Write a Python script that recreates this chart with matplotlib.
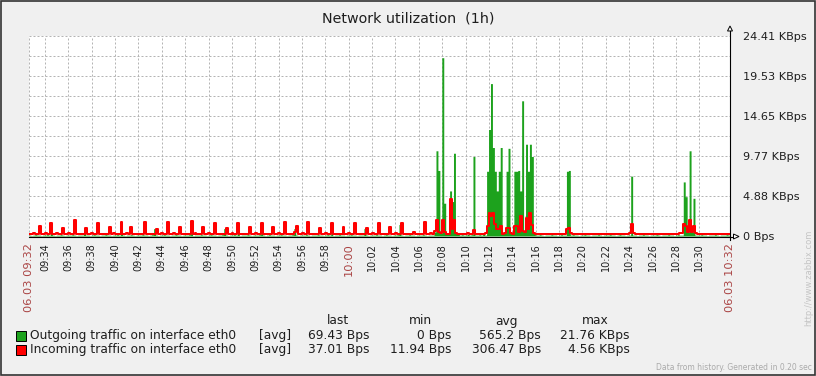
import matplotlib
matplotlib.use("Agg")
import matplotlib.pyplot as plt
import numpy as np
from matplotlib.patches import Rectangle, Polygon
from matplotlib.lines import Line2D
from matplotlib.transforms import Affine2D

W, H = 816, 376

# samples every 10 s from 06.03 09:32:38, values in KBps
start_min = 32 + 38 / 60  # minutes after 09:00
step_min = 10 / 60

outgoing = [
    0.1, 0.05, 0.1, 0.15, 0.1, 0.1, 0.05, 0.1, 0.1, 0.15, 0.1, 1.55, 0.1, 0.05, 0.1, 0.1, 0.15, 0.1, 0.05, 0.1, 0.1, 0.1, 0.15, 0.1, 0.05, 0.1, 0.1, 0.1, 0.7, 0.1,
    0.1, 0.05, 0.1, 0.15, 0.1, 0.1, 0.05, 0.1, 0.1, 0.15, 0.1, 0.1, 0.05, 0.1, 0.1, 0.15, 0.1, 1.6, 0.1, 0.05, 0.1, 0.1, 0.15, 0.1, 0.05, 0.1, 0.1, 0.1, 0.15, 0.1,
    0.1, 0.05, 0.1, 0.15, 0.9, 0.1, 0.05, 0.1, 0.1, 0.15, 0.1, 0.1, 0.05, 0.1, 0.1, 0.15, 0.1, 0.1, 0.05, 0.1, 0.1, 0.1, 0.15, 1.6, 0.05, 0.1, 0.1, 0.1, 0.15, 0.1,
    0.1, 0.05, 0.1, 0.15, 0.1, 0.1, 0.05, 0.1, 0.1, 0.15, 0.9, 0.1, 0.05, 0.1, 0.1, 0.15, 0.1, 1.55, 0.05, 0.1, 0.1, 0.1, 0.15, 0.1, 0.05, 0.1, 0.1, 0.1, 0.15, 1.55,
    0.1, 0.05, 0.1, 0.15, 0.1, 0.1, 0.05, 0.1, 0.1, 0.15, 0.1, 0.1, 0.05, 0.1, 0.1, 0.15, 0.9, 0.1, 0.05, 0.1, 0.1, 0.1, 0.15, 0.1, 0.05, 0.1, 0.1, 0.1, 0.15, 0.1,
    0.1, 0.05, 0.1, 0.15, 0.1, 1.55, 0.05, 0.1, 0.1, 0.15, 0.1, 0.1, 0.05, 0.1, 0.1, 0.15, 0.1, 0.1, 0.05, 0.1, 0.1, 0.1, 0.9, 0.1, 0.05, 0.1, 0.1, 0.1, 0.15, 0.1,
    0.1, 0.05, 0.1, 0.15, 0.1, 0.1, 0.05, 0.1, 0.1, 0.15, 1.4, 0.1, 0.05, 0.1, 0.1, 0.15, 0.1, 0.1, 0.05, 0.1, 0.1, 0.1, 0.15, 0.1, 0.05, 0.1, 0.1, 0.1, 0.5, 10.4,
    8.0, 0.3, 21.76, 4.0, 0.3, 0.2, 5.5, 4.2, 10.1, 0.3, 0.2, 0.1, 0.15, 0.1, 0.1, 0.2, 0.1, 0.15, 9.7, 0.1, 0.1, 0.15, 0.1, 0.2, 0.1, 7.9, 13.0, 18.6, 10.8, 7.9,
    5.5, 7.9, 10.8, 0.3, 0.4, 7.9, 10.7, 0.3, 0.4, 7.9, 7.9, 8.0, 5.5, 16.5, 0.5, 11.2, 7.9, 11.2, 9.7, 0.3, 0.1, 0.1, 0.15, 0.1, 0.05, 0.1, 0.1, 0.1, 0.15, 0.1,
    0.1, 0.05, 0.1, 0.15, 0.1, 0.1, 7.9, 8.0, 0.1, 0.15, 0.1, 0.1, 0.05, 0.1, 0.1, 0.15, 0.1, 0.1, 0.05, 0.1, 0.1, 0.1, 0.15, 0.1, 0.05, 0.1, 0.1, 0.1, 0.15, 0.1,
    0.1, 0.05, 0.1, 0.15, 0.1, 0.1, 0.05, 0.1, 0.1, 7.3, 0.1, 0.1, 0.05, 0.1, 0.1, 0.15, 0.1, 0.1, 0.05, 0.1, 0.1, 0.1, 0.15, 0.1, 0.05, 0.1, 0.1, 0.1, 0.15, 0.1,
    0.1, 0.05, 0.1, 0.15, 0.1, 0.1, 6.6, 4.8, 0.5, 10.4, 0.5, 4.6, 0.1, 0.1, 0.1, 0.15, 0.1, 0.1, 0.05, 0.1, 0.1, 0.1, 0.15, 0.1, 0.05, 0.1, 0.1, 0.1, 0.15, 0.1,
    0.1,
]

incoming = [
    0.3, 0.25, 0.35, 0.2, 0.25, 1.2, 0.25, 0.2, 0.4, 0.25, 0.2, 1.55, 0.25, 0.2, 0.35, 0.25, 0.2, 1.0, 0.25, 0.2, 0.4, 0.25, 0.2, 1.95, 0.25, 0.2, 0.3, 0.25, 0.2, 1.0,
    0.25, 0.2, 0.35, 0.25, 0.2, 1.55, 0.25, 0.2, 0.3, 0.25, 0.2, 1.1, 0.25, 0.4, 0.2, 0.25, 0.2, 1.7, 0.25, 0.2, 0.35, 0.25, 1.1, 0.25, 0.2, 0.3, 0.25, 0.2, 0.25, 1.7,
    0.25, 0.2, 0.3, 0.25, 0.2, 0.9, 0.25, 0.2, 0.35, 0.25, 0.2, 1.7, 0.25, 0.2, 0.4, 0.25, 0.2, 1.1, 0.25, 0.2, 0.3, 0.25, 0.2, 1.8, 0.25, 0.35, 0.2, 0.25, 0.2, 1.1,
    0.25, 0.2, 0.35, 0.25, 0.2, 1.55, 0.25, 0.2, 0.3, 0.25, 0.2, 1.0, 0.25, 0.2, 0.4, 0.25, 0.2, 1.55, 0.25, 0.2, 0.3, 0.25, 0.2, 1.1, 0.25, 0.2, 0.35, 0.25, 0.2, 1.55,
    0.25, 0.2, 0.3, 0.25, 0.2, 1.1, 0.25, 0.2, 0.35, 0.25, 0.2, 1.7, 0.25, 0.2, 0.3, 0.25, 0.45, 1.2, 0.25, 0.2, 0.35, 0.25, 0.2, 1.7, 0.25, 0.2, 0.3, 0.25, 0.2, 1.0,
    0.25, 0.2, 0.35, 0.25, 0.2, 1.55, 0.25, 0.2, 0.3, 0.25, 0.2, 1.1, 0.25, 0.2, 0.4, 0.25, 0.2, 1.55, 0.25, 0.2, 0.3, 0.25, 0.2, 1.0, 0.25, 0.2, 0.35, 0.25, 0.2, 1.55,
    0.25, 0.2, 0.3, 0.25, 0.2, 1.1, 0.25, 0.2, 0.35, 0.25, 0.2, 1.55, 0.25, 0.2, 0.3, 0.25, 0.2, 0.5, 0.25, 0.2, 0.3, 0.25, 0.2, 1.7, 0.25, 0.2, 0.35, 0.25, 0.6, 1.95,
    0.5, 0.4, 1.95, 0.5, 0.3, 0.3, 4.56, 0.8, 2.0, 0.4, 0.3, 0.25, 0.2, 0.3, 0.25, 0.35, 0.25, 0.2, 0.7, 0.3, 0.25, 0.2, 0.3, 0.25, 0.4, 1.2, 2.8, 2.4, 2.8, 1.5,
    0.9, 0.8, 1.2, 0.3, 0.4, 1.0, 1.0, 0.4, 0.3, 1.2, 1.2, 0.5, 2.4, 0.6, 0.5, 2.2, 0.8, 2.8, 1.3, 0.4, 0.3, 0.25, 0.3, 0.25, 0.2, 0.3, 0.25, 0.2, 0.3, 0.25,
    0.25, 0.3, 0.25, 0.2, 0.3, 0.25, 0.85, 0.95, 0.4, 0.3, 0.25, 0.2, 0.3, 0.25, 0.2, 0.3, 0.25, 0.3, 0.2, 0.25, 0.3, 0.25, 0.2, 0.3, 0.25, 0.2, 0.3, 0.25, 0.2, 0.25,
    0.25, 0.3, 0.2, 0.25, 0.3, 0.25, 0.2, 0.3, 0.35, 1.45, 0.4, 0.25, 0.3, 0.2, 0.25, 0.3, 0.25, 0.2, 0.3, 0.25, 0.2, 0.3, 0.25, 0.2, 0.3, 0.25, 0.2, 0.3, 0.25, 0.2,
    0.25, 0.3, 0.25, 0.2, 0.35, 0.4, 1.45, 1.2, 0.5, 1.95, 0.5, 1.25, 0.4, 0.3, 0.25, 0.2, 0.3, 0.25, 0.2, 0.3, 0.25, 0.2, 0.3, 0.25, 0.2, 0.3, 0.25, 0.2, 0.25, 0.3,
    0.3,
]

tick_minutes = [34, 36, 38, 40, 42, 44, 46, 48, 50, 52, 54, 56, 58, 60,
                62, 64, 66, 68, 70, 72, 74, 76, 78, 80, 82, 84, 86, 88, 90]
tick_labels = ["09:34", "09:36", "09:38", "09:40", "09:42", "09:44", "09:46", "09:48",
               "09:50", "09:52", "09:54", "09:56", "09:58", "10:00", "10:02", "10:04",
               "10:06", "10:08", "10:10", "10:12", "10:14", "10:16", "10:18", "10:20",
               "10:22", "10:24", "10:26", "10:28", "10:30"]
start_label = "06.03 09:32"
end_label = "06.03 10:32"

y_max = 24.41
y_grid = [0, 2.441, 4.882, 7.323, 9.764, 12.205, 14.646, 17.087, 19.528, 21.969, 24.41]
y_labels = ["0 Bps", "", "4.88 KBps", "", "9.77 KBps", "", "14.65 KBps", "",
            "19.53 KBps", "", "24.41 KBps"]

series_names = ["Outgoing traffic on interface eth0", "Incoming traffic on interface eth0"]
stat_heads = ["last", "min", "avg", "max"]
stat_rows = [["69.43 Bps", "0 Bps", "565.2 Bps", "21.76 KBps"],
             ["37.01 Bps", "11.94 Bps", "306.47 Bps", "4.56 KBps"]]

green = "#1da21d"
red = "#ff0000"
dark_red = "#aa4444"
txt = "#1e1e1e"
fs_leg = 8.8

fig = plt.figure(figsize=(W / 100, H / 100), dpi=100, facecolor="#f0f0f0")
px = Affine2D().scale(1 / W, -1 / H).translate(0, 1) + fig.transFigure

ax = fig.add_axes([29 / W, 1 - 236 / H, 701 / W, 200 / H])
ax.set_facecolor("white")
for s in ax.spines.values():
    s.set_visible(False)

t = start_min + np.arange(len(outgoing)) * step_min
end_min = start_min + 60

ax.fill_between(t, outgoing, step="post", color=green, lw=0, zorder=3)
ax.step(t, incoming, where="post", color=red, lw=1.45, zorder=4)

ax.set_xlim(start_min, end_min)
ax.set_ylim(0, y_max)

ax.set_xticks([start_min] + tick_minutes + [end_min],
              labels=[start_label] + tick_labels + [end_label])
ax.tick_params(axis="x", length=0, pad=5, labelsize=7, labelcolor=txt, labelrotation=90)
for lab in ax.get_xticklabels():
    lab.set_va("top")
    if lab.get_text() in (start_label, end_label, "10:00"):
        lab.set_color(dark_red)
        lab.set_fontsize(8.2)

ax.yaxis.tick_right()
ax.set_yticks(y_grid, labels=y_labels)
ax.tick_params(axis="y", length=0, pad=9.5, labelsize=8.1, labelcolor=txt)

ax.grid(True, color="#b4b4b4", lw=0.72, linestyle=(0, (2, 2)), zorder=1)
ax.set_axisbelow(True)

# axes lines with arrows
fig.add_artist(Line2D([730, 730], [31, 240], color="black", lw=0.8, transform=px))
fig.add_artist(Line2D([29, 733], [236.5, 236.5], color="black", lw=0.8, transform=px))
fig.add_artist(Polygon([[727.5, 31], [730, 26], [732.5, 31]], closed=True, fc="white",
                       ec="black", lw=0.7, transform=px))
fig.add_artist(Polygon([[733.5, 234], [739, 236.5], [733.5, 239]], closed=True, fc="white",
                       ec="black", lw=0.7, transform=px))

fig.text(408, 18, "Network utilization  (1h)", transform=px, ha="center", va="center",
         fontsize=10.3, color=txt)

# legend
head_x = [338, 420, 506, 595]
val_x = [369, 451, 541, 630]
for hx, h in zip(head_x, stat_heads):
    fig.text(hx, 321, h, transform=px, ha="center", va="center", fontsize=fs_leg, color=txt)
for row, (name, col, stats) in enumerate(zip(series_names, [green, red], stat_rows)):
    y = 335.5 + row * 14.5
    fig.add_artist(Rectangle((15.5, y - 5), 10, 10, fc=col, ec="black", lw=0.7, transform=px))
    fig.text(30, y, name, transform=px, ha="left", va="center", fontsize=fs_leg, color=txt)
    fig.text(259, y, "[avg]", transform=px, ha="left", va="center", fontsize=fs_leg, color=txt)
    for vx, v in zip(val_x, stats):
        fig.text(vx, y, v, transform=px, ha="right", va="center", fontsize=fs_leg, color=txt)

fig.text(812, 368, "Data from history. Generated in 0.20 sec", transform=px, ha="right",
         va="center", fontsize=5.5, color="#aaaaaa")
fig.text(809, 326, "http://www.zabbix.com", transform=px, ha="center", va="bottom",
         rotation=90, fontsize=6, color="#c4c4c4")

fig.add_artist(Rectangle((0.75, 0.75), W - 1.5, H - 1.5, fill=False, ec="#333333", lw=1.2,
                         transform=px))

fig.savefig("out.png", dpi=100, facecolor=fig.get_facecolor())
